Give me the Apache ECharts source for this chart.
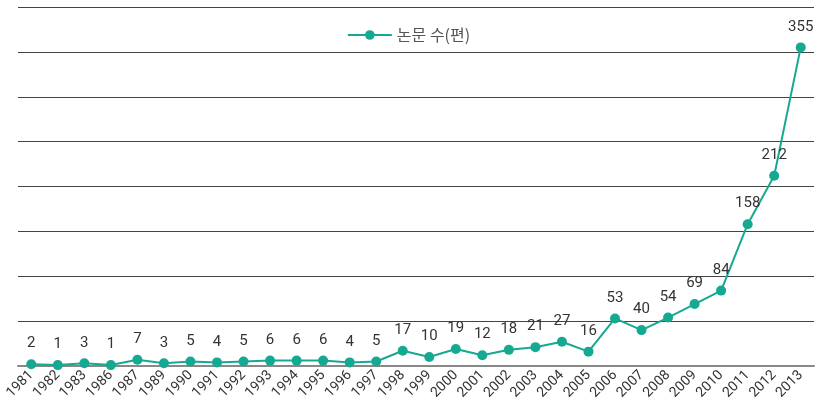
<!DOCTYPE html>
<html>
<head>
<meta charset="utf-8">
<script src="https://cdn.jsdelivr.net/npm/echarts@6/dist/echarts.min.js"></script>
<style>
  html, body { margin: 0; padding: 0; background: #fff; }
  #chart { width: 817px; height: 412px; }
</style>
</head>
<body>
<div id="chart"></div>
<script>
var years = ['1981', '1982', '1983', '1986', '1987', '1989', '1990', '1991', '1992', '1993',
    '1994', '1995', '1996', '1997', '1998', '1999', '2000', '2001', '2002', '2003',
    '2004', '2005', '2006', '2007', '2008', '2009', '2010', '2011', '2012', '2013'];
var papers = [2, 1, 3, 1, 7, 3, 5, 4, 5, 6,
    6, 6, 4, 5, 17, 10, 19, 12, 18, 21,
    27, 16, 53, 40, 54, 69, 84, 158, 212, 355];
var seriesName = '논문 수(편)';

var teal = '#16a992';

var chart = echarts.init(document.getElementById('chart'));
chart.setOption({
    animation: false,
    textStyle: { fontFamily: 'Roboto, "Noto Sans CJK KR", sans-serif' },
    legend: {
        top: 22,
        left: 'center',
        itemWidth: 44,
        itemHeight: 12,
        itemGap: 10,
        textStyle: { fontSize: 16, color: '#555', fontFamily: '"Noto Sans CJK KR", sans-serif' },
        data: [seriesName]
    },
    grid: { left: 18, right: 3, top: 7, bottom: 46 },
    xAxis: {
        type: 'category',
        data: years,
        boundaryGap: true,
        axisLine: { lineStyle: { color: '#888', width: 2 } },
        axisTick: { show: false },
        axisLabel: { rotate: 45, fontSize: 14, color: '#333', margin: 7, interval: 0 }
    },
    yAxis: {
        type: 'value',
        min: 0,
        max: 400,
        interval: 50,
        axisLine: { show: false },
        axisTick: { show: false },
        axisLabel: { show: false },
        splitLine: { lineStyle: { color: '#444', width: 1 } }
    },
    series: [{
        name: seriesName,
        type: 'line',
        data: papers,
        symbol: 'circle',
        symbolSize: 10,
        itemStyle: { color: teal },
        lineStyle: { color: teal, width: 2 },
        label: {
            show: true,
            position: 'top',
            distance: 8,
            fontSize: 15,
            color: '#333'
        }
    }]
});
</script>
</body>
</html>
